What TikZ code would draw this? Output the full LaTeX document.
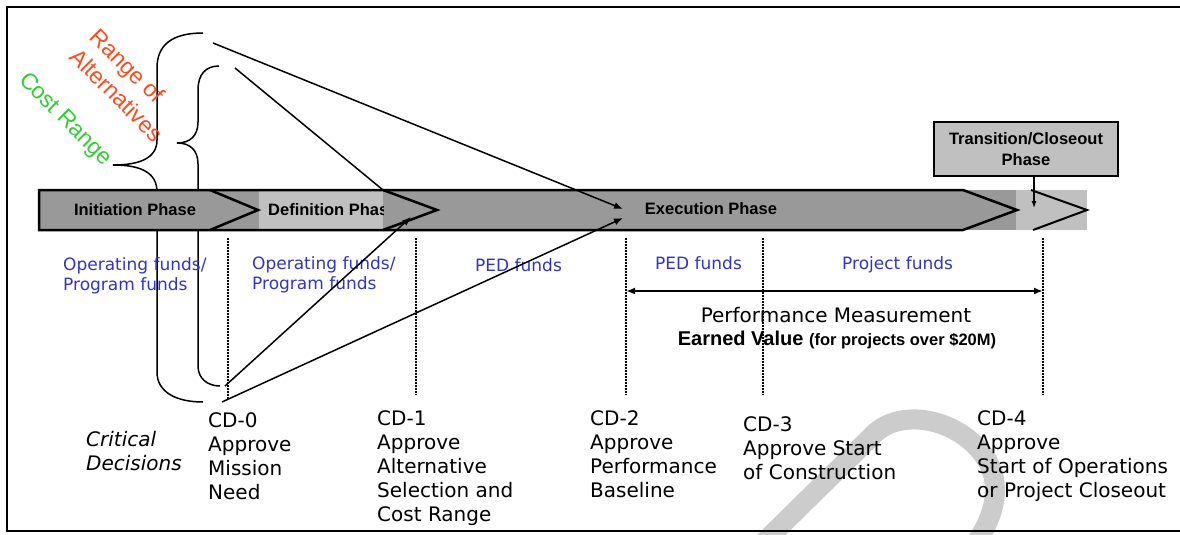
\documentclass[tikz,border=0pt]{standalone}
\usepackage{fontspec}
\setmainfont{DejaVu Sans}
\newfontfamily\arialfont{Liberation Sans}
\usetikzlibrary{arrows.meta, positioning}
\definecolor{bardark}{HTML}{999999}
\definecolor{barlight}{HTML}{C0C0C0}
\definecolor{fundblue}{HTML}{3333CC}
\definecolor{altred}{HTML}{FF4A1C}
\definecolor{costgreen}{HTML}{33CC33}
\definecolor{wmark}{HTML}{CCCCCC}

\begin{document}
\begin{tikzpicture}[x=1pt, y=-1pt,
    phase/.style={font=\arialfont\bfseries\fontsize{16.5}{21}\selectfont, inner sep=0pt},
    fund/.style={text=fundblue, font=\fontsize{17}{20.5}\selectfont, align=left, inner sep=0pt, anchor=north west},
    cd/.style={font=\fontsize{20}{24}\selectfont, align=left, inner sep=0pt, anchor=north west},
    brace/.style={line width=1.5pt},
    pointer/.style={line width=1.5pt, -{Latex[length=9pt,width=7pt]}},
    chev/.style={line width=2.5pt, line join=miter},
    dots/.style={line width=1.3pt, dash pattern=on 1.5pt off 1.5pt}]
    \useasboundingbox (0,0) rectangle (1180,535);
    % watermark
    \begin{scope}
        \clip (0,0) rectangle (1180,535);
        \draw[wmark, line width=20pt] (758,548) -- (874,434) .. controls (903,406) and (964,420) .. (988,462) .. controls (1003,490) and (992,522) .. (972,548);
    \end{scope}
    % Frame
    \draw[line width=2pt] (1180,7) -- (7,7) -- (7,531) -- (1180,531);
    % Braces
    \draw[brace] (203,33) .. controls (172,33) and (157,45) .. (157,68) -- (157,140) .. controls (157,158) and (140,165) .. (113,165) .. controls (140,165) and (157,172) .. (157,192) -- (157,372) .. controls (157,392) and (176,402) .. (203,402);
    \draw[brace] (219,66) .. controls (206,66) and (198,74) .. (198,90) -- (198,122) .. controls (198,136) and (190,143) .. (177,143) .. controls (190,143) and (198,150) .. (198,164) -- (198,366) .. controls (198,378) and (207,386) .. (220,386);
    \node[rotate=-45, text=costgreen, font=\arialfont\fontsize{23}{28}\selectfont] (cost) at (65,120) {Cost Range};
    \node[rotate=-45, text=altred, align=left, font=\arialfont\fontsize{23}{28}\selectfont] (alts) at (127,85) {Range of\\Alternatives};
    % Phase bar
    \fill[bardark] (39,190) rectangle (1016,230);
    \fill[barlight] (259,190) rectangle (383,230);
    \fill[barlight] (1016,190) rectangle (1087,230);
    \node[phase] (init) at (135,210) {Initiation Phase};
    \begin{scope}
        \clip (259,190) rectangle (383,230);
        \node[phase, anchor=west] (defn) at (268,210) {Definition Phase};
    \end{scope}
    \node[phase] (exec) at (711,209) {Execution Phase};
    \draw[chev] (39,190) -- (963,190) -- (1017,210) -- (963,230) -- (39,230) -- cycle;
    \draw[chev] (210,190) -- (258,210) -- (210,230);
    \draw[chev] (383,190) -- (437,210) -- (383,230);
    \draw[chev, line width=2pt] (1031,190) -- (1087,210) -- (1033,230);
    \node[draw, fill=barlight, phase, align=center, minimum width=184pt, minimum height=54pt, line width=1.2pt] (trans) at (1026,149) {Transition/Closeout\\Phase};
    \coordinate (transTip) at (1034,208);
    \draw[line width=1.2pt, -{Latex[length=7pt,width=5pt]}] (trans.south -| transTip) -- (transTip);
    % Decision lines
    \foreach \x/\yb in {228/400, 416/395, 626/395, 763/395, 1043/395}
        \draw[dots] (\x,238) -- (\x,\yb);
    % Funds
    \node[fund] (opf1) at (63,257) {Operating funds/\\Program funds};
    \node[fund] (opf2) at (252,256) {Operating funds/\\Program funds};
    \node[fund] (ped1) at (475,258) {PED funds};
    \node[fund] (ped2) at (655,256) {PED funds};
    \node[fund] (projf) at (842,256) {Project funds};
    % Performance measurement
    \coordinate (pmL) at (626,291);
    \coordinate (pmR) at (1043,291);
    \draw[line width=2pt, {Latex[length=9pt,width=7pt]}-{Latex[length=9pt,width=7pt]}] (pmL) -- (pmR);
    \node[font=\fontsize{20}{24}\selectfont] (perf) at (836,315) {Performance Measurement};
    \node[font=\arialfont\bfseries\fontsize{20}{24}\selectfont] (ev) at (837,340) {Earned Value {\fontsize{16.5}{20}\selectfont(for projects over \$20M)}};
    % Critical decisions
    \node[cd, font=\fontsize{20}{24}\selectfont\itshape] (crit) at (86,431) {Critical\\Decisions};
    \node[cd] (cd0) at (208,412) {CD-0\\Approve\\Mission\\Need};
    \node[cd] (cd1) at (377,410) {CD-1\\Approve\\Alternative\\Selection and\\Cost Range};
    \node[cd] (cd2) at (590,410) {CD-2\\Approve\\Performance\\Baseline};
    \node[cd] (cd3) at (743,416) {CD-3\\Approve Start\\of Construction};
    \node[cd] (cd4) at (977,410) {CD-4\\Approve\\Start of Operations\\or Project Closeout};
    % Arrows
    \coordinate (costTop) at (213,43);
    \coordinate (altTop) at (235,68);
    \coordinate (altBot) at (225,386);
    \coordinate (costBot) at (222,402);
    \coordinate (defStart) at (383,190);
    \coordinate (defTip) at (411,217);
    \coordinate (exeA) at (623,209);
    \coordinate (exeB) at (623,218);
    \draw[pointer] (costTop) -- (exeA);
    \draw[line width=1.5pt] (altTop) -- (defStart);
    \draw[pointer] (altBot) -- (defTip);
    \draw[pointer] (costBot) -- (exeB);
\end{tikzpicture}
\end{document}
